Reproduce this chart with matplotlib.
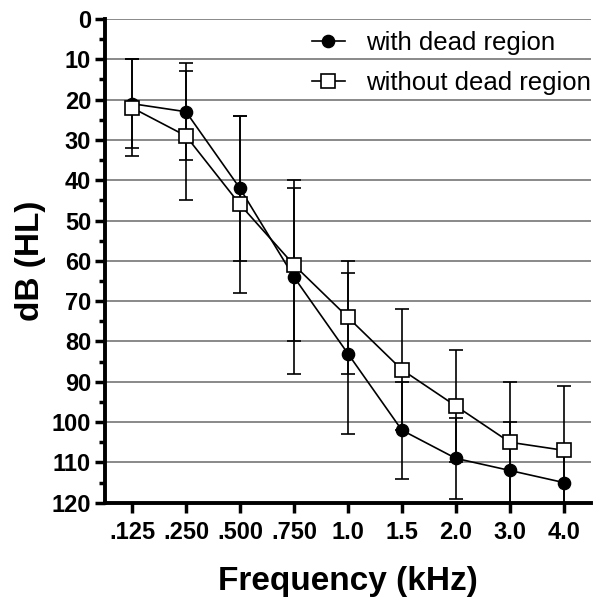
import matplotlib.pyplot as plt
import numpy as np

plt.rcParams['font.family'] = ['Liberation Sans', 'DejaVu Sans']

freq_labels = ['.125', '.250', '.500', '.750', '1.0', '1.5', '2.0', '3.0', '4.0']
with_dead = [21, 23, 42, 64, 83, 102, 109, 112, 115]
with_dead_sd = [11, 12, 18, 24, 20, 12, 10, 12, 9]
without_dead = [22, 29, 46, 61, 74, 87, 96, 105, 107]
without_dead_sd = [12, 16, 22, 19, 14, 15, 14, 15, 16]

fig = plt.figure(figsize=(6.01, 6.04), dpi=100)
ax = fig.add_axes([0.1747, 0.1677, 0.8083, 0.8008])

x = np.arange(len(freq_labels))

e1 = ax.errorbar(x, with_dead, yerr=with_dead_sd, color='black', lw=1.2,
                 marker='o', ms=8.8, mfc='black', mec='black', capsize=5,
                 elinewidth=1.2, capthick=1.2, zorder=3)
e2 = ax.errorbar(x, without_dead, yerr=without_dead_sd, color='black', lw=1.2,
                 marker='s', ms=9.5, mfc='white', mec='black', mew=1.2, capsize=5,
                 elinewidth=1.2, capthick=1.2, zorder=3)

ax.set_xlim(-0.5, 8.5)
ax.set_ylim(120, 0)
ax.set_yticks(np.arange(0, 121, 10))
ax.set_yticks(np.arange(5, 120, 10), minor=True)
ax.set_xticks(x)
ax.set_xticklabels(freq_labels)

ax.yaxis.grid(True, color='#808080', lw=1.3)
ax.set_axisbelow(True)

for s in ['top', 'right']:
    ax.spines[s].set_visible(False)
for s in ['left', 'bottom']:
    ax.spines[s].set_linewidth(2.8)

ax.tick_params(axis='both', which='major', length=7, width=2.5, labelsize=17, pad=3)
ax.tick_params(axis='x', which='major', pad=6)
ax.tick_params(axis='y', which='minor', length=4, width=2.5)
for lbl in ax.get_xticklabels() + ax.get_yticklabels():
    lbl.set_fontweight('bold')

ax.set_ylabel('dB (HL)', fontsize=24, fontweight='bold', labelpad=4)
ax.set_xlabel('Frequency (kHz)', fontsize=24, fontweight='bold', labelpad=16)

leg = ax.legend([e1[0], e2[0]], ['with dead region', 'without dead region'],
                loc='upper right', frameon=False, fontsize=18.5,
                handlelength=1.3, handletextpad=0.8, borderaxespad=0,
                borderpad=0.2, labelspacing=0.6,
                bbox_to_anchor=(1.01, 0.985))

fig.savefig('out.png', dpi=100)
